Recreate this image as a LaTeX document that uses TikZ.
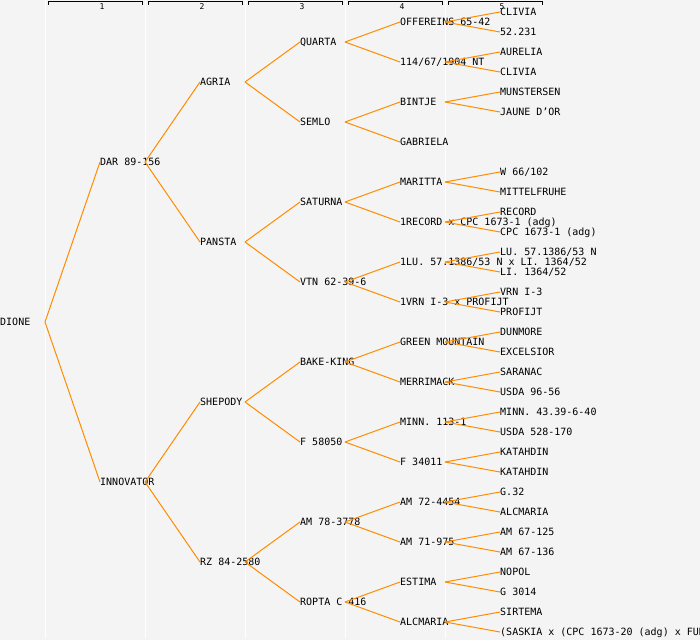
\documentclass[tikz,border=0pt]{standalone}
\usepackage{fontspec}
\setmonofont{DejaVu Sans Mono}
\usetikzlibrary{calc}
\definecolor{bggray}{HTML}{F4F4F4}
\definecolor{linkorange}{HTML}{FF8C00}
\tikzset{
cultivar/.style={
  anchor=west,
  inner sep=0pt,
  font=\ttfamily\fontsize{10}{10}\selectfont,
  text height=7.3pt,
  text depth=0pt
  },
colnum/.style={inner sep=0pt,font=\ttfamily\fontsize{8}{8}\selectfont},
link/.style={draw=linkorange,line width=1pt},
colsep/.style={draw=white,line width=1pt},
bracket/.style={draw=black,line width=1pt},
}
\begin{document}
\begin{tikzpicture}[x=1pt,y=-1pt]
    \fill[bggray] (0,0) rectangle (700,640);
    \useasboundingbox (0,0) rectangle (700,640);
    % columns and their numbers
    \foreach \k in {1,...,5}
    {
        \pgfmathtruncatemacro\a{100*\k-52}
        \draw[colsep] (\a-3,0) -- (\a-3,638);
        \draw[bracket] (\a,4.5) -- (\a,1.5) -- (\a+94,1.5) -- (\a+94,4.5);
        \node[colnum] (h\k) at (100*\k+2,7) {\k};
    }
    % generations
    \node[cultivar] (g0-1) at (0,322) {DIONE};
    \foreach \t [count=\i] in {DAR 89-156,INNOVATOR}
        \node[cultivar] (g1-\i) at (100,{162+320*(\i-1)}) {\t};
    \foreach \t [count=\i] in {AGRIA,PANSTA,SHEPODY,RZ 84-2580}
        \node[cultivar] (g2-\i) at (200,{82+160*(\i-1)}) {\t};
    \foreach \t [count=\i] in {QUARTA,SEMLO,SATURNA,VTN 62-39-6,BAKE-KING,F 58050,AM 78-3778,ROPTA C 416}
        \node[cultivar] (g3-\i) at (300,{42+80*(\i-1)}) {\t};
    \foreach \t [count=\i] in {OFFEREINS 65-42,114/67/1904 NT,BINTJE,GABRIELA,MARITTA,
        1RECORD x CPC 1673-1 (adg),1LU. 57.1386/53 N x LI. 1364/52,1VRN I-3 x PROFIJT,
        GREEN MOUNTAIN,MERRIMACK,MINN. 113-1,F 34011,AM 72-4454,AM 71-975,ESTIMA,ALCMARIA}
        \node[cultivar] (g4-\i) at (400,{22+40*(\i-1)}) {\t};
    \foreach \t [count=\i] in {CLIVIA,52.231,AURELIA,CLIVIA,MUNSTERSEN,JAUNE D’OR}
        \node[cultivar] (g5-\i) at (500,{12+20*(\i-1)}) {\t};
    \foreach \t [count=\i from 9] in {W 66/102,MITTELFRUHE,RECORD,CPC 1673-1 (adg),
        LU. 57.1386/53 N,LI. 1364/52,VRN I-3,PROFIJT,DUNMORE,EXCELSIOR,SARANAC,USDA 96-56,
        MINN. 43.39-6-40,USDA 528-170,KATAHDIN,KATAHDIN,G.32,ALCMARIA,AM 67-125,AM 67-136,
        NOPOL,G 3014,SIRTEMA}
        \node[cultivar] (g5-\i) at (500,{12+20*(\i-1)}) {\t};
    \node[cultivar] (g5-32) at (500,632) {(SASKIA x (CPC 1673-20 (adg) x FUR};
    % parent -> child links
    \foreach \g/\n in {1/2,2/4,3/8,4/16,5/32}
    {
        \pgfmathtruncatemacro\h{\g-1}
        \foreach \i in {1,...,\n}
        {
            \pgfmathtruncatemacro\p{(\i+1)/2}
            \ifnum\g\p=54 \else
                \draw[link] ([xshift=45pt]g\h-\p.west) -- (g\g-\i.west);
            \fi
        }
    }
\end{tikzpicture}
\end{document}
